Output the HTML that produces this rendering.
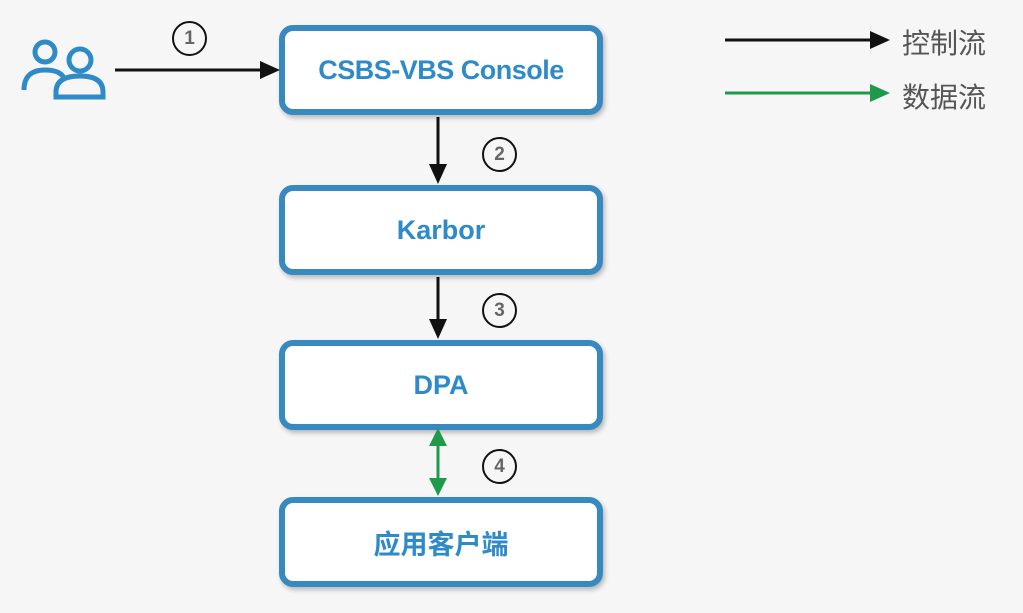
<!DOCTYPE html>
<html><head><meta charset="utf-8"><style>
body{margin:0;width:1023px;height:613px;background:#f6f6f6;overflow:hidden;position:relative;font-family:"Liberation Sans","Noto Sans CJK SC",sans-serif}
.box{position:absolute;left:279px;width:312px;height:78px;border:6px solid #3889bf;border-radius:14px;background:#fff;box-shadow:2px 3px 5px rgba(0,0,0,.25);display:flex;align-items:center;justify-content:center;color:#2e8bc8;font-weight:bold;font-size:27px}
.c{position:absolute;width:31px;height:31px;border:2.5px solid #111;border-radius:50%;text-align:center;line-height:31px;font-weight:bold;font-size:19px;color:#666}
.lg{position:absolute;left:902px;font-size:28px;color:#555}
</style></head><body>
<div class="box" style="top:25px;letter-spacing:-0.5px">CSBS-VBS Console</div>
<div class="box" style="top:185px">Karbor</div>
<div class="box" style="top:340px">DPA</div>
<div class="box" style="top:497px">应用客户端</div>
<div class="c" style="left:172px;top:21px">1</div>
<div class="c" style="left:482px;top:137px">2</div>
<div class="c" style="left:482px;top:293px">3</div>
<div class="c" style="left:482px;top:449px">4</div>
<svg width="1023" height="613" style="position:absolute;left:0;top:0">
<g stroke="#111" stroke-width="3" fill="#111">
<line x1="115" y1="70" x2="262" y2="70"/><polygon points="280,70 260,61 260,79" stroke="none"/>
<line x1="438" y1="117" x2="438" y2="167"/><polygon points="438,184 429,164 447,164" stroke="none"/>
<line x1="438" y1="277" x2="438" y2="322"/><polygon points="438,339 429,319 447,319" stroke="none"/>
<line x1="725" y1="40" x2="872" y2="40"/><polygon points="890,40 870,31 870,49" stroke="none"/>
</g>
<g stroke="#1e9a4a" stroke-width="3" fill="#1e9a4a">
<line x1="438" y1="440" x2="438" y2="485"/><polygon points="438,428 429,446 447,446" stroke="none"/><polygon points="438,496 429,478 447,478" stroke="none"/>
<line x1="725" y1="93" x2="872" y2="93"/><polygon points="890,93 870,84 870,102" stroke="none"/>
</g>
<g fill="none" stroke="#2f8bc8" stroke-width="5">
<circle cx="45" cy="52" r="10"/><path d="M24 90 Q24 70 45 70 Q60 70 64 78"/>
<circle cx="80" cy="60" r="11"/><path d="M56 97 L56 92 Q56 76 80 76 Q103 76 103 92 L103 97 Z"/>
</g>
</svg>
<div class="lg" style="top:22px">控制流</div>
<div class="lg" style="top:76px">数据流</div>
</body></html>
